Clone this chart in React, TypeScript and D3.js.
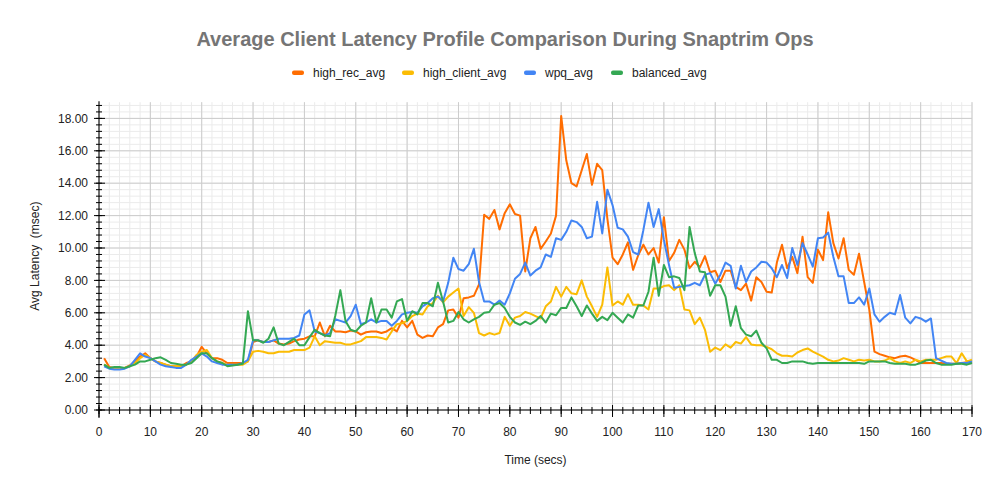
import React, { useEffect } from 'react';
import * as d3 from 'd3';

const seriesNames = ['high_rec_avg', 'high_client_avg', 'wpq_avg', 'balanced_avg'];
const seriesColors = ['#ff6d01', '#fbbc04', '#4285f4', '#34a853'];

// seconds 1..170
const highRecAvg = [
  3.2, 2.65, 2.6, 2.6, 2.6, 2.75, 3.0, 3.3, 3.5, 3.2,
  3.0, 2.9, 2.8, 2.7, 2.7, 2.7, 2.9, 3.0, 3.3, 3.9,
  3.5, 3.2, 3.2, 3.1, 2.9, 2.9, 2.9, 2.9, 3.0, 4.2,
  4.3, 4.2, 4.2, 4.3, 4.1, 4.05, 4.1, 4.25, 4.35, 4.4,
  4.55, 4.55, 5.4, 4.55, 5.2, 4.85, 4.85, 4.8, 4.9, 4.85,
  4.65, 4.8, 4.85, 4.85, 4.75, 4.85, 5.05, 4.85, 5.5, 5.1,
  5.5, 4.65, 4.45, 4.6, 4.55, 5.1, 5.3, 6.15, 6.2, 5.7,
  6.9, 6.95, 7.05, 7.75, 12.05, 11.8, 12.35, 11.15, 12.15, 12.7,
  12.1, 12.0, 8.55, 10.6, 11.3, 9.95, 10.4, 10.9, 12.0, 18.15,
  15.4, 14.0, 13.8, 14.8, 15.8, 13.9, 15.2, 14.8, 11.8, 9.4,
  9.0, 9.6, 10.35, 8.65, 9.55, 10.2, 9.6, 10.0, 9.1, 11.9,
  9.2, 9.7, 10.5, 9.9, 8.75, 9.15, 8.8, 9.5, 8.5, 8.6,
  7.9, 8.6, 8.6, 7.6, 7.4, 7.8, 6.75, 8.2, 7.9, 7.3,
  7.25, 9.1, 10.2, 8.75, 9.45, 8.45, 10.7, 8.2, 7.85, 9.9,
  9.25, 12.2, 10.3, 9.35, 10.6, 8.65, 8.35, 9.65, 7.9, 6.2,
  3.6, 3.45, 3.35, 3.25, 3.2, 3.3, 3.35, 3.25, 3.1, 2.9,
  2.9, 2.9, 2.9, 2.9, 2.85, 2.85, 2.85, 2.9, 2.95, 3.0,
];
const highClientAvg = [
  2.8, 2.6, 2.6, 2.6, 2.6, 2.7, 2.9, 3.2, 3.4, 3.2,
  3.0, 2.9, 2.8, 2.7, 2.7, 2.7, 2.8, 3.0, 3.4, 3.6,
  3.7, 3.2, 3.0, 2.9, 2.8, 2.8, 2.8, 2.8, 3.0, 3.6,
  3.65, 3.6, 3.5, 3.5, 3.6, 3.6, 3.6, 3.7, 3.7, 3.7,
  3.85, 4.55, 4.0, 4.25, 4.2, 4.15, 4.15, 4.05, 4.05, 4.15,
  4.25, 4.5, 4.5, 4.5, 4.45, 4.35, 4.85, 5.3, 5.35, 5.5,
  5.8, 5.95, 5.9, 6.4, 6.6, 7.05, 6.65, 7.0, 7.25, 7.5,
  5.8, 6.35, 6.0, 4.75, 4.6, 4.75, 4.65, 4.75, 5.75, 5.2,
  5.7, 5.8, 6.05, 5.95, 5.8, 5.65, 6.4, 6.7, 7.6, 7.0,
  7.6, 7.2, 7.15, 8.0, 7.0, 6.4, 5.75, 6.5, 8.8, 6.45,
  6.7, 6.5, 7.15, 6.5, 6.5, 6.45, 6.2, 7.5, 7.5, 7.65,
  7.7, 7.4, 7.7, 6.2, 6.15, 5.3, 5.7, 4.95, 3.6, 3.85,
  3.7, 4.05, 3.85, 4.2, 4.1, 4.5, 4.05, 4.0, 4.0, 3.9,
  3.75, 3.5, 3.35, 3.35, 3.3, 3.55, 3.7, 3.8, 3.6, 3.45,
  3.3, 3.1, 3.0, 3.05, 3.2, 3.1, 3.0, 3.1, 3.05, 3.1,
  3.0, 3.0, 3.05, 3.2, 3.0, 2.9, 3.0, 2.9, 3.1, 3.0,
  3.1, 3.1, 3.1, 3.2, 3.3, 3.3, 2.9, 3.5, 3.0, 3.1,
];
const wpqAvg = [
  2.7, 2.55, 2.5, 2.5, 2.55, 2.7, 3.1, 3.5, 3.3, 3.2,
  3.0, 2.8, 2.7, 2.65, 2.6, 2.6, 2.8, 3.1, 3.3, 3.5,
  3.3, 3.0, 2.9, 2.8, 2.8, 2.8, 2.8, 2.9, 3.1, 4.3,
  4.3, 4.2, 4.2, 4.3, 4.4, 4.4, 4.4, 4.45, 4.6, 5.9,
  6.15, 4.85, 4.75, 4.6, 4.75, 5.6, 5.5, 5.4, 5.8, 6.5,
  5.3, 5.4, 5.6, 5.4, 5.5, 5.5, 5.2, 5.5, 5.9, 6.0,
  6.05, 6.0, 6.4, 6.6, 6.9, 7.0, 6.7, 7.85, 9.4, 8.7,
  8.6, 9.0, 9.95, 7.9, 6.7, 6.7, 6.5, 6.75, 6.5, 7.2,
  8.1, 8.4, 9.1, 8.3, 8.6, 8.8, 9.6, 9.45, 10.6, 10.5,
  11.0, 11.7, 11.6, 11.3, 10.6, 10.7, 12.85, 10.9, 13.6, 12.65,
  11.25, 11.15, 10.7, 9.75, 9.6, 11.1, 12.8, 11.3, 12.4, 10.5,
  8.95, 7.55, 7.6, 7.65, 7.7, 7.85, 7.7, 8.35, 8.45, 7.8,
  8.35, 9.1, 8.9, 7.5, 8.9, 7.9, 8.55, 8.8, 9.15, 9.1,
  8.75, 8.2, 8.95, 8.15, 10.0, 8.95, 10.3, 9.6, 8.85, 10.6,
  10.65, 10.95, 9.45, 8.25, 8.25, 6.6, 6.6, 6.95, 6.5, 7.5,
  5.9, 5.45, 5.75, 6.0, 5.9, 7.1, 5.7, 5.35, 5.75, 5.65,
  5.45, 5.65, 3.2, 3.05, 2.9, 2.85, 2.85, 2.9, 2.9, 3.0,
];
const balancedAvg = [
  2.8, 2.6, 2.65, 2.65, 2.6, 2.7, 2.8, 3.0, 3.0, 3.1,
  3.2, 3.25, 3.1, 2.9, 2.85, 2.8, 2.8, 2.9, 3.2, 3.5,
  3.5, 3.2, 3.0, 2.9, 2.7, 2.75, 2.8, 2.85, 6.1, 4.3,
  4.3, 4.15, 4.4, 5.1, 4.1, 4.0, 4.2, 4.4, 4.0, 4.0,
  4.5, 4.95, 4.75, 4.6, 4.55, 5.8, 7.4, 5.5, 4.95, 4.85,
  5.2, 5.4, 6.9, 5.4, 6.2, 6.2, 5.7, 6.7, 6.85, 5.5,
  6.1, 5.9, 6.6, 6.6, 6.4, 7.85, 6.7, 5.4, 5.5, 6.05,
  5.6, 5.4, 5.6, 5.75, 6.0, 6.05, 6.5, 6.6, 6.3, 5.75,
  5.4, 5.25, 5.45, 5.3, 5.5, 5.8, 5.4, 5.95, 5.85, 6.3,
  6.3, 6.95, 6.4, 5.8, 6.45, 5.95, 5.5, 5.75, 5.55, 6.0,
  5.7, 5.4, 5.9, 5.7, 6.45, 6.45, 7.3, 9.4, 7.05, 8.95,
  8.2, 8.25, 8.15, 7.4, 11.3, 9.7, 8.55, 8.5, 7.05, 7.7,
  7.7, 7.0, 5.2, 6.4, 5.05, 4.65, 4.55, 4.9, 4.15, 3.8,
  3.1, 3.1, 2.9, 2.9, 3.0, 3.0, 3.0, 2.9, 2.85, 2.9,
  2.9, 2.9, 2.9, 2.9, 2.9, 2.9, 2.9, 2.9, 2.85, 3.0,
  3.0, 3.0, 3.0, 2.9, 2.85, 2.85, 2.85, 2.8, 2.8, 2.9,
  3.05, 3.1, 2.9, 2.8, 2.8, 2.8, 2.85, 2.85, 2.8, 2.9,
];
const seriesValues = [highRecAvg, highClientAvg, wpqAvg, balancedAvg];

const xTickValues = [0, 10, 20, 30, 40, 50, 60, 70, 80, 90, 100, 110, 120, 130, 140, 150, 160, 170];
const yTickValues = [0, 2, 4, 6, 8, 10, 12, 14, 16, 18];

const titleText = 'Average Client Latency Profile Comparison During Snaptrim Ops';
const xAxisTitle = 'Time (secs)';
const yAxisTitle = 'Avg Latency  (msec)';

const FONT = 'Arial, "Liberation Sans", sans-serif';

export default function App() {
  useEffect(() => {
    document.body.style.margin = '0';
  }, []);

  const W = 997;
  const H = 493;
  const left = 99;
  const right = 972;
  const bottom = 410;
  const x = d3.scaleLinear().domain([0, 170]).range([left, right]);
  const y = d3.scaleLinear().domain([0, 19]).range([bottom, bottom - 19 * 16.2]);
  const top = y(19);

  const minorY = d3.range(0, 48).map((i) => Math.round(i * 4) / 10); // every 0.4
  const minorX = d3.range(0, 86).map((i) => i * 2);

  const line = d3
    .line<number>()
    .x((_, i) => x(i + 1))
    .y((d) => y(d));

  const legendItems = [
    { mx: 292, tx: 313 },
    { mx: 402, tx: 423 },
    { mx: 524, tx: 545 },
    { mx: 611, tx: 632 },
  ];

  return (
    <svg width={W} height={H} style={{ display: 'block', background: '#fff' }} fontFamily={FONT}>
      <rect x={0} y={0} width={W} height={H} fill="#fff" />
      {/* minor grid */}
      {minorY.map((v) => (
        <line key={'my' + v} x1={left} x2={right} y1={y(v)} y2={y(v)} stroke="#ebebeb" strokeWidth={1} />
      ))}
      {minorX.map((v) => (
        <line key={'mx' + v} x1={x(v)} x2={x(v)} y1={top} y2={bottom} stroke="#ebebeb" strokeWidth={1} />
      ))}
      {/* major grid */}
      {yTickValues.map((v) => (
        <line key={'gy' + v} x1={left} x2={right} y1={y(v)} y2={y(v)} stroke="#cccccc" strokeWidth={1} />
      ))}
      {xTickValues.map((v) => (
        <line key={'gx' + v} x1={x(v)} x2={x(v)} y1={top} y2={bottom} stroke="#cccccc" strokeWidth={1} />
      ))}

      {/* series */}
      {seriesValues.map((vals, si) => (
        <path
          key={seriesNames[si]}
          d={line(vals) || ''}
          fill="none"
          stroke={seriesColors[si]}
          strokeWidth={2}
          strokeLinejoin="round"
        />
      ))}

      {/* axes */}
      <line x1={left} x2={left} y1={top - 1} y2={bottom + 8} stroke="#000" strokeWidth={1} />
      <line x1={left} x2={right} y1={bottom} y2={bottom} stroke="#000" strokeWidth={1} />
      {minorY.map((v) => (
        <line key={'ty' + v} x1={left - 3} x2={left + 3} y1={y(v)} y2={y(v)} stroke="#000" strokeWidth={1} />
      ))}
      {yTickValues.map((v) => (
        <line key={'tY' + v} x1={left - 5} x2={left + 6} y1={y(v)} y2={y(v)} stroke="#000" strokeWidth={1} />
      ))}
      {minorX.map((v) => (
        <line key={'tx' + v} x1={x(v)} x2={x(v)} y1={bottom - 3} y2={bottom + 4} stroke="#000" strokeWidth={1} />
      ))}
      {xTickValues.map((v) => (
        <line key={'tX' + v} x1={x(v)} x2={x(v)} y1={bottom - 5} y2={bottom + 7} stroke="#000" strokeWidth={1} />
      ))}

      {/* tick labels */}
      {yTickValues.map((v) => (
        <text key={'ly' + v} x={88} y={y(v)} dy="0.35em" textAnchor="end" fontSize={12} fill="#222">
          {d3.format('.2f')(v)}
        </text>
      ))}
      {xTickValues.map((v) => (
        <text key={'lx' + v} x={x(v)} y={436} textAnchor="middle" fontSize={12} fill="#222">
          {v}
        </text>
      ))}

      {/* axis titles */}
      <text x={(left + right) / 2} y={464} textAnchor="middle" fontSize={12} fill="#222">
        {xAxisTitle}
      </text>
      <text
        transform={`translate(39, ${(top + bottom) / 2}) rotate(-90)`}
        textAnchor="middle"
        fontSize={12}
        fill="#222"
        style={{ whiteSpace: 'pre' }}
      >
        {yAxisTitle}
      </text>

      {/* title */}
      <text x={505} y={46} textAnchor="middle" fontSize={20} fontWeight="bold" fill="#757575">
        {titleText}
      </text>

      {/* legend */}
      {seriesNames.map((name, i) => (
        <g key={'lg' + name}>
          <rect x={legendItems[i].mx} y={70.5} width={12} height={4.5} rx={2} fill={seriesColors[i]} />
          <text x={legendItems[i].tx} y={76.5} fontSize={12} fill="#222">
            {name}
          </text>
        </g>
      ))}
    </svg>
  );
}
